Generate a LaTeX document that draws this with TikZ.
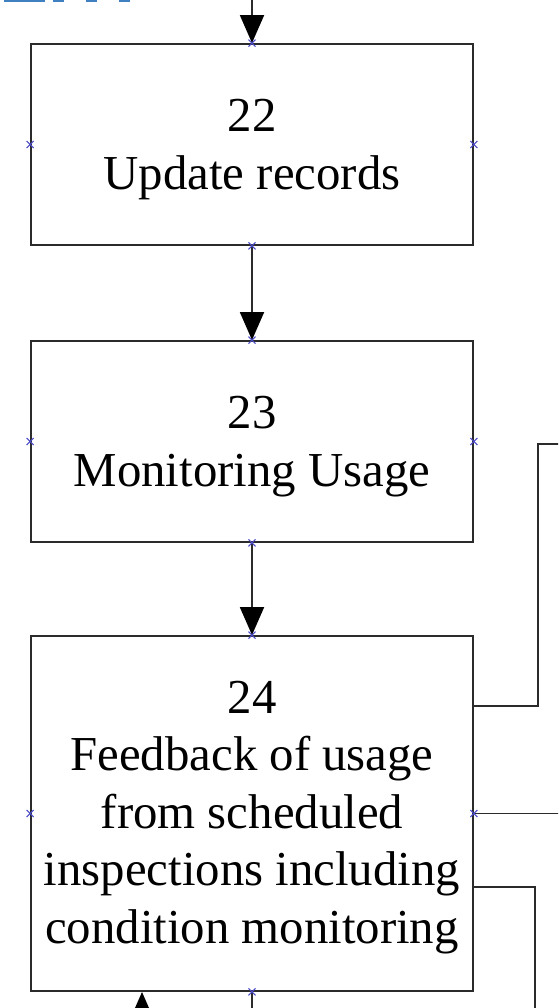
\documentclass[tikz,border=0pt]{standalone}
\usepackage{fontspec}
\setmainfont{Liberation Serif}
\usetikzlibrary{arrows.meta}
\definecolor{linegray}{HTML}{2B2B2B}
\definecolor{markblue}{HTML}{4A4AC8}
\definecolor{headblue}{HTML}{3F80C0}
\begin{document}
\begin{tikzpicture}[x=1pt,y=-1pt,
  stepbox/.style={draw=linegray, line width=1.9pt, rectangle, minimum width=442pt,
    inner sep=0pt},
  steptext/.style={align=center, inner sep=0pt, font=\fontsize{48.8}{57.5}\selectfont},
  flow/.style={draw=linegray, line width=1.9pt},
  arr/.style={flow, -{Triangle[width=24pt,length=28pt,color=black,fill=black]}},
  xm/.pic={\draw[markblue, line width=1.1pt] (-3.5,-3.5)--(3.5,3.5) (-3.5,3.5)--(3.5,-3.5);}]
\useasboundingbox (0,0) rectangle (558,1008);
\clip (0,0) rectangle (558,1008);

% remnants of the heading above the chart
\fill[headblue] (4,0) rectangle (45,1.6);
\fill[headblue] (53,0) rectangle (64,1.6);
\fill[headblue] (86,0) rectangle (97,1.6);
\fill[headblue] (119,0) rectangle (130,1.6);

% process steps
\node[stepbox, minimum height=201pt] (b22) at (252,144.5) {};
\node[stepbox, minimum height=201pt] (b23) at (252,441.5) {};
\node[stepbox, minimum height=355pt] (b24) at (252,813.5) {};
\node[steptext] (t22) at ([yshift=-5pt]b22.center) {22\\Update records};
\node[steptext] (t23) at ([yshift=-5pt]b23.center) {23\\Monitoring Usage};
\node[steptext] (t24) at ([yshift=-4pt]b24.center)
  {24\\Feedback of usage\\from scheduled\\inspections including\\condition monitoring};

% free ends of the connectors
\coordinate (intop) at (252,-20);
\coordinate (out1) at (570,444);
\coordinate (out2) at (570,813.5);
\coordinate (out3) at (535,1030);
\coordinate (inbot) at (142,1040);
\coordinate (outbot) at (252,1030);

% vertical flow
\draw[arr] (intop) -- (b22.north);
\draw[arr] (b22.south) -- (b23.north);
\draw[arr] (b23.south) -- (b24.north);
\draw[arr] (inbot) -- (b24.south -| inbot);
\draw[flow] (b24.south) -- (outbot);

% connectors leaving to the right
\draw[flow] (b24.east |- 0,706) -| (538,444) -- (out1);
\draw[flow] (b24.east) -- (out2);
\draw[flow] (b24.east |- 0,887) -| (out3);

% connection points
\foreach \n in {b22,b23,b24}{
  \pic at (\n.north) {xm};
  \pic at (\n.south) {xm};
  \pic at (\n.west) {xm};
  \pic at (\n.east) {xm};
}
\end{tikzpicture}
\end{document}
